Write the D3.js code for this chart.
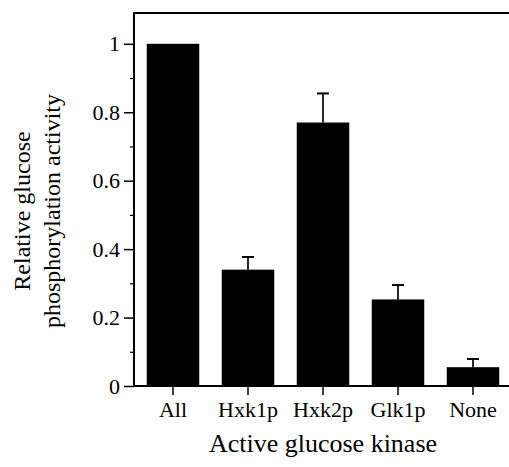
<!DOCTYPE html>
<html>
<head>
<meta charset="utf-8">
<script src="https://cdn.jsdelivr.net/npm/d3@7"></script>
<style>
  html, body { margin: 0; padding: 0; background: #fff; }
</style>
</head>
<body>
<div id="chart"></div>
<script>
// data
const categories = ['All', 'Hxk1p', 'Hxk2p', 'Glk1p', 'None'];
const activity = [1.0, 0.34, 0.77, 0.253, 0.055];
const errors = [0, 0.037, 0.085, 0.042, 0.024];
const yTicks = [0, 0.2, 0.4, 0.6, 0.8, 1];
const yMinorTicks = [0.1, 0.3, 0.5, 0.7, 0.9];

const serif = '"Liberation Serif", serif';

const width = 509;
const height = 467;
const margin = {top: 13, right: 0, bottom: 81, left: 134};

const svg = d3.select('#chart')
    .append('svg')
        .attr('width', width)
        .attr('height', height)
        .style('font-family', serif);

// scales
const x = d3.scaleBand()
    .domain(categories)
    .range([margin.left, 512])
    .paddingInner(0.3)
    .paddingOuter(0.17);
const y = d3.scaleLinear()
    .domain([0, 1.09])
    .range([height - margin.bottom, margin.top]);

const rows = categories.map((c, i) => ({name: c, value: activity[i], err: errors[i]}));

// bars
svg.append('g')
    .selectAll('rect')
    .data(rows)
    .join('rect')
        .attr('x', d => x(d.name))
        .attr('y', d => y(d.value))
        .attr('width', x.bandwidth())
        .attr('height', d => y(0) - y(d.value))
        .attr('fill', '#000');

// error bars (upper only)
const eb = svg.append('g')
    .attr('stroke', '#000')
    .selectAll('g')
    .data(rows.filter(d => d.err > 0))
    .join('g')
        .attr('transform', d => `translate(${x(d.name) + x.bandwidth() / 2},0)`);
eb.append('line')
    .attr('stroke-width', 1.7)
    .attr('y1', d => y(d.value))
    .attr('y2', d => y(d.value + d.err));
eb.append('line')
    .attr('stroke-width', 2)
    .attr('x1', -6).attr('x2', 6)
    .attr('y1', d => y(d.value + d.err))
    .attr('y2', d => y(d.value + d.err));

// axes
svg.append('g')
    .attr('transform', `translate(${margin.left},0)`)
    .call(d3.axisLeft(y).tickValues(yTicks).tickFormat(d => String(d)).tickSize(10).tickPadding(4))
    .style('font-family', serif)
    .attr('font-size', 22)
    .call(g => g.select('.domain').remove())
    .call(g => g.selectAll('.tick line').attr('stroke-width', 1.5))
    .call(g => g.selectAll('.tick text').attr('fill', '#000'));

svg.append('g')
    .attr('transform', `translate(${margin.left},0)`)
    .call(d3.axisLeft(y).tickValues(yMinorTicks).tickFormat('').tickSize(4))
    .call(g => g.select('.domain').remove())
    .call(g => g.selectAll('.tick line').attr('stroke-width', 1.2));

svg.append('g')
    .attr('transform', `translate(0,${y(0)})`)
    .call(d3.axisBottom(x).tickSize(9).tickPadding(6))
    .style('font-family', serif)
    .attr('font-size', 22)
    .call(g => g.select('.domain').remove())
    .call(g => g.selectAll('.tick line').attr('stroke-width', 1.5))
    .call(g => g.selectAll('.tick text').attr('fill', '#000'));

// frame: left axis, bottom axis, top line
const frame = svg.append('g')
    .attr('stroke', '#000')
    .attr('stroke-width', 2)
    .attr('fill', 'none');
frame.append('line')
    .attr('x1', margin.left).attr('x2', margin.left)
    .attr('y1', y.range()[1]).attr('y2', y(0) + 1);
frame.append('line')
    .attr('x1', margin.left - 1).attr('x2', width)
    .attr('y1', y(0)).attr('y2', y(0));
frame.append('line')
    .attr('x1', margin.left - 1).attr('x2', width)
    .attr('y1', y.range()[1]).attr('y2', y.range()[1]);

// axis titles
svg.append('text')
    .attr('x', 323)
    .attr('y', 452)
    .attr('text-anchor', 'middle')
    .attr('font-size', 26)
    .text('Active glucose kinase');

const yTitle = svg.append('text')
    .attr('transform', 'translate(0,211) rotate(-90)')
    .attr('text-anchor', 'middle')
    .attr('font-size', 24);
yTitle.append('tspan').attr('x', 0).attr('y', 30).text('Relative glucose');
yTitle.append('tspan').attr('x', 0).attr('y', 60).text('phosphorylation activity');
</script>
</body>
</html>
